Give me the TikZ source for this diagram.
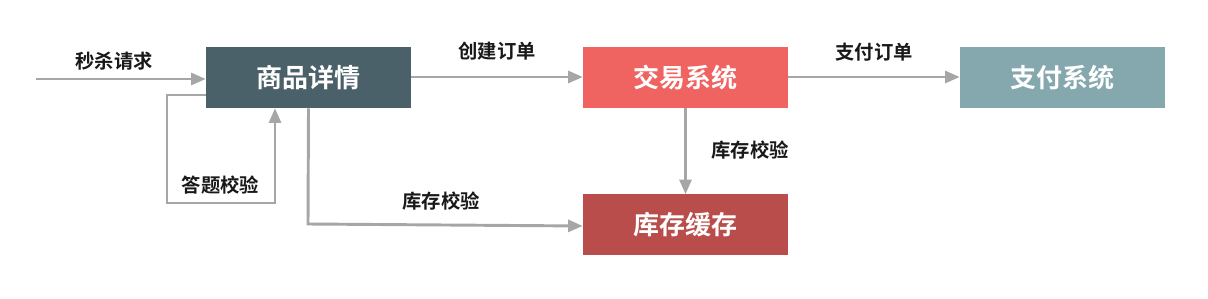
\documentclass[tikz,border=0pt]{standalone}
\usepackage{fontspec}
\setmainfont{Noto Sans CJK SC}[BoldFont={Noto Sans CJK SC Bold}]
\usetikzlibrary{arrows.meta}
\definecolor{cSP}{HTML}{4B6169}
\definecolor{cJY}{HTML}{EF6461}
\definecolor{cZF}{HTML}{84A8AD}
\definecolor{cKC}{HTML}{B94D4B}
\definecolor{cArr}{HTML}{A6A6A6}
\begin{document}
\begin{tikzpicture}[x=0.75pt,y=-0.75pt,
  sysbox/.style={fill=#1,draw=none,minimum width=153.75pt,minimum height=45.75pt,inner sep=0pt,
    text=white,font=\fontsize{19.5pt}{22pt}\selectfont\bfseries},
  arr/.style={draw=cArr,line width=2.2pt,-{Triangle[length=11pt,width=9pt]}},
  lbl/.style={font=\fontsize{14.5pt}{17pt}\selectfont\bfseries,text=black!90,inner sep=0pt}]
\useasboundingbox (0,0) rectangle (1208,299);
\node[sysbox=cSP] (sp) at (308.5,77.5) {商品详情};
\node[sysbox=cJY] (jy) at (685.5,77.5) {交易系统};
\node[sysbox=cZF] (zf) at (1062.5,77.5) {支付系统};
\node[sysbox=cKC] (kc) at (685.5,225) {库存缓存};
\coordinate (in) at (36,79);
% incoming request
\draw[arr] (in) -- (in -| sp.west);
\node[lbl] (l1) at (114,61) {秒杀请求};
% create order
\draw[arr] (sp.east |- 0,77) -- (jy.west |- 0,77);
\node[lbl] (l2) at (497,51) {创建订单};
% pay order
\draw[arr] (jy.east |- 0,77) -- (zf.west |- 0,77);
\node[lbl] (l3) at (874,52) {支付订单};
% stock check from trade
\draw[arr] (jy.south) -- (kc.north);
\node[lbl] (l4) at (750,150) {库存校验};
% answer check loop
\draw[arr] (sp.west |- 0,95) -- (167,95) -- (167,203) -- (275,203) -- (sp.south -| 275,0);
\node[lbl] (l5) at (220.5,185) {答题校验};
% stock check from detail
\draw[arr] (sp.south) -- (308,224) -- (kc.west |- 0,226);
\node[lbl] (l6) at (441,201) {库存校验};
\end{tikzpicture}
\end{document}
